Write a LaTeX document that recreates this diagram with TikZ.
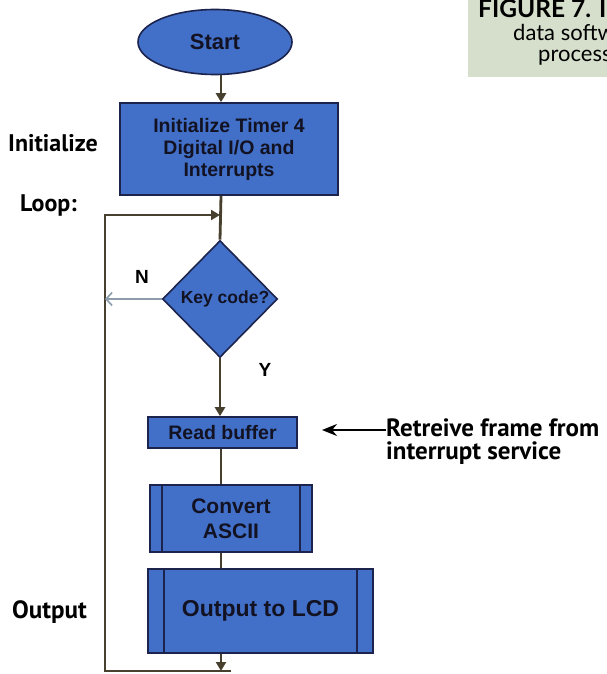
\documentclass[tikz,border=0pt]{standalone}
\usepackage{fontspec}
\setmainfont{Liberation Sans}
\newfontfamily\labelfont{PT Sans}
\newfontfamily\capfont{Lato}
\usetikzlibrary{shapes.geometric,arrows.meta}

\definecolor{boxblue}{RGB}{66,112,200}
\definecolor{boxedge}{RGB}{28,36,78}
\definecolor{boxtext}{RGB}{18,18,34}
\definecolor{wirecol}{RGB}{72,64,46}
\definecolor{nocol}{RGB}{140,156,172}
\definecolor{capgreen}{RGB}{213,223,203}

\tikzset{
  box/.style={draw=boxedge,line width=1.6pt,fill=boxblue,text=boxtext,align=center,inner sep=0pt},
  wire/.style={draw=wirecol,line width=2.8pt},
  arr/.style={wire,-{Triangle[length=9pt,width=10pt]}},
  side/.style={font=\labelfont\bfseries\fontsize{24}{24}\selectfont,anchor=west,inner sep=0pt}
}

\begin{document}
\begin{tikzpicture}[x=1pt,y=-1pt,font=\bfseries]
\useasboundingbox (0,0) rectangle (607,674);
\fill[white] (0,0) rectangle (607,674);

% caption, cut at the page edge
\begin{scope}
\clip (468,0) rectangle (607,77);
\fill[capgreen] (468,0) rectangle (607,77);
\node[anchor=base west,inner sep=0pt,font=\capfont\bfseries\fontsize{24.5}{26}\selectfont] (cap1) at (478,18) {FIGURE 7. I};
\node[anchor=base west,inner sep=0pt,font=\capfont\fontsize{22}{24}\selectfont] (cap2) at (513,41) {data softw};
\node[anchor=base west,inner sep=0pt,font=\capfont\fontsize{22}{24}\selectfont] (cap3) at (538,62) {process};
\end{scope}

\coordinate (spine) at (221,0);

% blocks
\node[box,ellipse,minimum width=154pt,minimum height=65pt,font=\bfseries\fontsize{22}{24}\selectfont] (start) at (215,42) {Start};
\node[box,minimum width=218pt,minimum height=92pt,font=\bfseries\fontsize{19.5}{22}\selectfont] (init) at (229,149) {Initialize Timer 4\\Digital I/O and\\Interrupts};
\node[box,diamond,minimum width=115pt,minimum height=117pt,font=\bfseries\fontsize{17.5}{18}\selectfont] (key) at (220,299) {\hspace*{10pt}Key code?};
\node[box,minimum width=149pt,minimum height=31pt,font=\bfseries\fontsize{19.5}{22}\selectfont] (rb) at (222.5,432.5) {Read buffer};
\node[box,minimum width=162pt,minimum height=67pt,font=\bfseries\fontsize{21}{25}\selectfont] (conv) at (231,518.5) {Convert\\ASCII};
\node[box,minimum width=225pt,minimum height=84pt,font=\bfseries\fontsize{23}{26}\selectfont] (out) at (260.5,611) {Output to LCD};

% inner bars of the two process boxes
\foreach \b/\d in {conv/13,out/17}{
  \draw[boxedge,line width=1.6pt] ([xshift=\d pt]\b.north west) -- ([xshift=\d pt]\b.south west);
  \draw[boxedge,line width=1.6pt] ([xshift=-\d pt]\b.north east) -- ([xshift=-\d pt]\b.south east);
}

% flow
\coordinate (loopin) at (220,215);
\coordinate (loopleft) at (105,215);
\coordinate (loopbot) at (231,671);
\draw[arr] (start.south -| spine) -- (init.north -| spine);
\draw[wire] (init.south -| spine) -- (key.north);
\draw[arr] (key.south) -- (key.south |- rb.north);
\draw[wire] (rb.south -| spine) -- (conv.north -| spine);
\draw[wire] (conv.south -| spine) -- (out.north -| spine);
\draw[arr] (out.south -| spine) -- (spine |- loopbot);
\draw[arr] (loopbot) -| (loopleft) -- (loopin);
\draw[nocol,line width=1.6pt,-{Straight Barb[length=6pt,width=13pt]}] (key.west) -- (key.west -| loopleft);

\node[font=\bfseries\fontsize{19}{20}\selectfont] (nlab) at (142,277) {N};
\node[font=\bfseries\fontsize{19}{20}\selectfont] (ylab) at (265,370) {Y};

% side notes
\node[side] (linit) at (8,143) {Initialize};
\node[side] (lloop) at (20,205) {Loop:};
\node[side,font=\labelfont\bfseries\fontsize{25}{25}\selectfont] (lout) at (12,612) {Output};
\node[side,anchor=north west,align=left,font=\labelfont\bfseries\fontsize{25}{23}\selectfont] (retr) at (386,419) {Retreive frame from\\interrupt service};
\coordinate (rbtip) at (322,430);
\draw[black,line width=2pt,-{Stealth[length=15pt,width=12pt]}] (retr.west |- rbtip) -- (rbtip);
\end{tikzpicture}
\end{document}
